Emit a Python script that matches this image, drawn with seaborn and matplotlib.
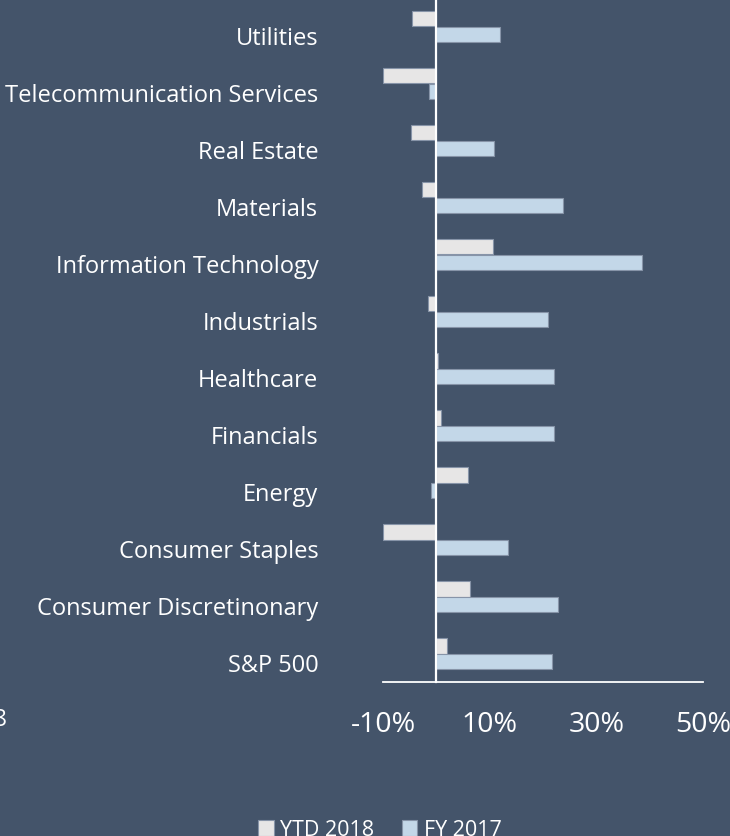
import numpy as np
import pandas as pd
import matplotlib
matplotlib.use("Agg")
import matplotlib.pyplot as plt
import seaborn as sns

# ---- data (top to bottom as shown) ----
sectors = ["Utilities", "Telecommunication Services", "Real Estate", "Materials",
           "Information Technology", "Industrials", "Healthcare", "Financials",
           "Energy", "Consumer Staples", "Consumer Discretinonary", "S&P 500"]
ytd_2018 = [-4.6, -10.0, -4.7, -2.7, 10.7, -1.6, 0.4, 0.9, 6.0, -10.0, 6.3, 2.0]
fy_2017 = [12.0, -1.3, 10.8, 23.8, 38.6, 20.9, 22.0, 22.1, -1.0, 13.5, 22.9, 21.7]
series_names = ["YTD 2018", "FY 2017"]
x_ticks = [-10, 10, 30, 50]

BG = "#44546A"
colors = {"YTD 2018": "#E7E6E6", "FY 2017": "#BDD7EE"}

df = pd.DataFrame({
    "sector": sectors * 2,
    "value": ytd_2018 + fy_2017,
    "series": [series_names[0]] * len(sectors) + [series_names[1]] * len(sectors),
})

sns.set_theme(style="white")
plt.rcParams["font.family"] = ["Open Sans", "DejaVu Sans"]
plt.rcParams["axes.unicode_minus"] = False

W, H = 730, 836
fig = plt.figure(figsize=(W / 100, H / 100), dpi=100, facecolor=BG)
ax = fig.add_axes([383 / W, (H - 682) / H, 320 / W, 684 / H])
ax.set_facecolor(BG)

sns.barplot(data=df, x="value", y="sector", hue="series", order=sectors,
            hue_order=series_names, palette=colors, orient="h", width=0.56,
            edgecolor="#8794A8", linewidth=0.8, ax=ax)

handles, labels = ax.get_legend_handles_labels()
if ax.get_legend() is not None:
    ax.get_legend().remove()

n = len(sectors)
ax.set_xlim(-10, 50)
ax.set_ylim(n - 0.5, -0.5)
ax.set_xlabel("")
ax.set_ylabel("")

# x axis
ax.set_xticks(x_ticks)
ax.set_xticklabels([f"{v}%" for v in x_ticks])
ax.tick_params(axis="x", length=0, pad=21, labelsize=20.5, labelcolor="white")

# y axis on zero line, boundary ticks crossing it
for s in ["top", "right"]:
    ax.spines[s].set_visible(False)
ax.spines["left"].set_position(("data", 0))
ax.spines["left"].set_color("white")
ax.spines["left"].set_linewidth(1.6)
ax.spines["bottom"].set_color("white")
ax.spines["bottom"].set_linewidth(1.3)

ax.set_yticks(np.arange(n + 1) - 0.5)
ax.set_yticklabels([""] * (n + 1))
ax.set_yticks(np.arange(n) + 0.17, labels=sectors, minor=True)
ax.tick_params(axis="y", which="major", direction="inout", length=12.2,
               width=1.5, color="white")
ax.tick_params(axis="y", which="minor", length=0, pad=85, labelsize=17,
               labelcolor="white")

# truncated text at left edge
fig.text(8 / W, (H - 720) / H, "2018", ha="right", va="center",
         fontsize=17, color="white")

fig.legend(handles, labels, loc="center", bbox_to_anchor=(380 / W, (H - 830) / H),
           ncol=2, frameon=False, fontsize=15.5, labelcolor="white",
           handlelength=0.7, handleheight=0.7, handletextpad=0.3,
           columnspacing=1.3, borderpad=0)

fig.savefig("out.png", dpi=100, facecolor=BG)
